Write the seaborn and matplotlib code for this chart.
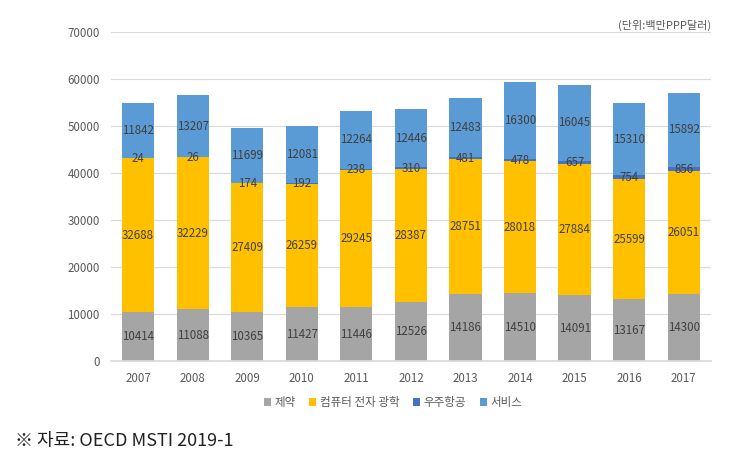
import matplotlib
matplotlib.use('Agg')
import matplotlib.pyplot as plt
from matplotlib.patches import Patch
import seaborn as sns
import numpy as np
import pandas as pd

# data (단위: 백만 PPP 달러)
years = ['2007', '2008', '2009', '2010', '2011', '2012', '2013', '2014', '2015', '2016', '2017']
pharma = [10414, 11088, 10365, 11427, 11446, 12526, 14186, 14510, 14091, 13167, 14300]
computer = [32688, 32229, 27409, 26259, 29245, 28387, 28751, 28018, 27884, 25599, 26051]
aero = [24, 26, 174, 192, 238, 310, 481, 478, 657, 754, 856]
services = [11842, 13207, 11699, 12081, 12264, 12446, 12483, 16300, 16045, 15310, 15892]

names = ['제약', '컴퓨터 전자 광학', '우주항공', '서비스']
colors = ['#A5A5A5', '#FFC000', '#4472C4', '#5B9BD5']

sns.set_theme(style='white')
plt.rcParams['font.family'] = ['Noto Sans CJK KR', 'DejaVu Sans']

df = pd.DataFrame({'year': years, names[0]: pharma, names[1]: computer,
                   names[2]: aero, names[3]: services})
series = [pharma, computer, aero, services]
cum = np.cumsum(np.array(series), axis=0)

fig = plt.figure(figsize=(7.39, 4.63), dpi=100)
ax = fig.add_axes([0.150, 0.220, 0.812, 0.711])

# stacked bars: draw cumulative totals from top segment down
for i in range(3, -1, -1):
    sns.barplot(x=df['year'], y=cum[i], color=colors[i], width=0.59,
                saturation=1, linewidth=0, edgecolor='none', ax=ax, zorder=2)

# data labels in the middle of each segment
for j in range(len(years)):
    for i in range(4):
        bottom = cum[i - 1][j] if i > 0 else 0
        val = series[i][j]
        ax.text(j, bottom + val / 2, str(val), ha='center', va='center',
                fontsize=8.3, color='#404040', zorder=3)

ax.set_ylim(0, 70000)
ax.set_yticks(range(0, 70001, 10000))
ax.set_xlim(-0.5, len(years) - 0.5)
ax.yaxis.grid(True, color='#D9D9D9', linewidth=0.8, zorder=0)
ax.set_axisbelow(True)
for s in ['top', 'right', 'left']:
    ax.spines[s].set_visible(False)
ax.spines['bottom'].set_color('#D9D9D9')
ax.tick_params(axis='both', length=0, labelsize=8.3, labelcolor='#595959', pad=8)
ax.set_xlabel('')
ax.set_ylabel('')

handles = [Patch(facecolor=c, edgecolor='none', label=n) for c, n in zip(colors, names)]
ax.legend(handles=handles, loc='upper center', bbox_to_anchor=(0.47, -0.075), ncol=4,
          frameon=False, fontsize=8.3, handlelength=0.6, handleheight=0.6,
          handletextpad=0.3, columnspacing=1.2, labelcolor='#595959')

fig.text(0.962, 0.945, '(단위:백만PPP달러)', ha='right', va='center',
         fontsize=8, color='#595959')
fig.text(0.02, 0.048, '※ 자료: OECD MSTI 2019-1', ha='left', va='center',
         fontsize=13, color='#222222')

fig.savefig('out.png', dpi=100)
